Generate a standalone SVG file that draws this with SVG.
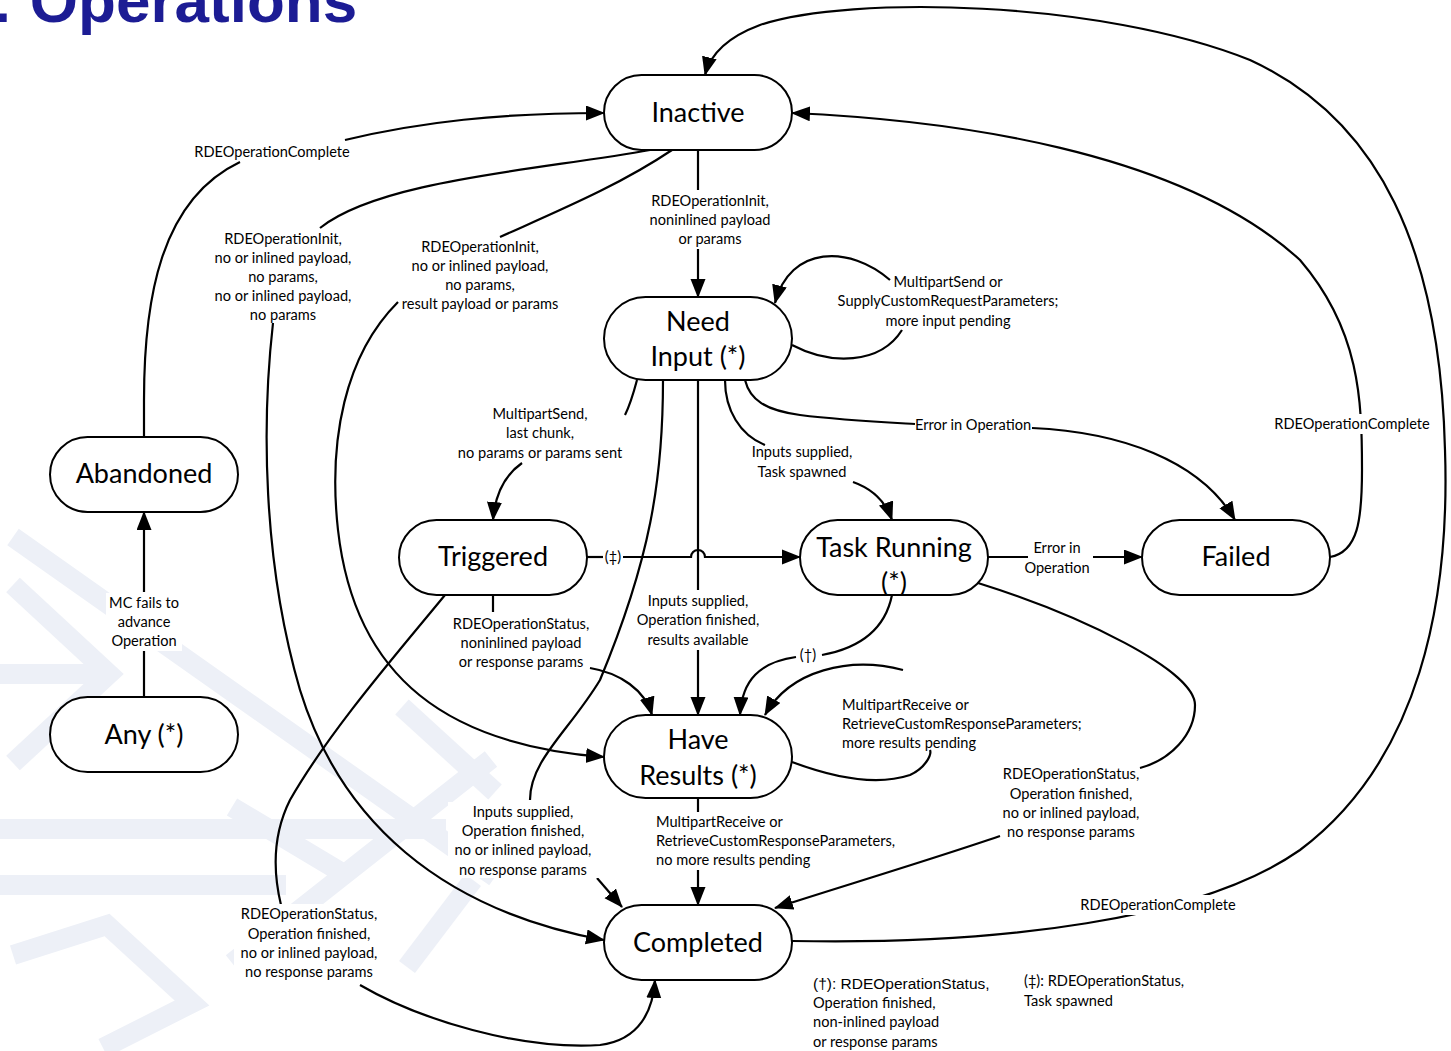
<svg xmlns="http://www.w3.org/2000/svg" width="1451" height="1051" viewBox="0 0 1451 1051">
<style>
.node rect{fill:#fff;stroke:#000;stroke-width:2}
.nt{font-family:Lato,"Liberation Sans",sans-serif;font-size:27px;fill:#000;text-anchor:middle}
.lb{font-family:Lato,"Liberation Sans",sans-serif;font-size:14.6px;fill:#000;text-anchor:middle}
.ll{font-family:Lato,"Liberation Sans",sans-serif;font-size:14.6px;fill:#000;text-anchor:start}
.fn{font-family:"Liberation Sans",Arial,sans-serif;font-size:15.5px;fill:#000}
.bg{fill:#fff}
#connectors path{fill:none;stroke:#000;stroke-width:2.2}
.arr{marker-end:url(#ah)}
.wm{fill:none;stroke:#edf0f7;stroke-width:20}
</style>
<defs>
<marker id="ah" markerUnits="userSpaceOnUse" markerWidth="20" markerHeight="16" refX="18" refY="7.5" orient="auto">
<path d="M0,0 L19,7.5 L0,15 z" fill="#000"/>
</marker>
</defs>
<rect width="1451" height="1051" fill="#fff"/>
<g id="watermark" class="wm">
<path d="M13,537 L495,877"/>
<path d="M13,585 L109,674 L13,763"/>
<path d="M0,674 L100,674"/>
<path d="M0,829 L446,829"/>
<path d="M0,885 L286,885"/>
<path d="M13,955 L107,925 L192,1003 L103,1048"/>
<path d="M232,963 L491,759"/>
<path d="M402,707 L495,792"/>
<path d="M407,967 L473,880"/>
<path d="M232,807 L344,874"/>
</g>
<text x="-8" y="22" font-family="'Liberation Sans',Arial,sans-serif" font-weight="bold" font-size="62" fill="#1c1c94">: Operations</text>
<g id="connectors">
<path class="arr" d="M792,941 C1000,945 1200,920 1300,850 C1420,760 1450,600 1445,450 C1440,250 1380,120 1250,60 C1100,0 850,-5 760,25 C725,38 710,55 705,75"/>
<path class="arr" d="M1330,557 C1358,552 1362,520 1362,470 C1362,400 1360,330 1300,260 C1180,150 950,120 792,113"/>
<path d="M144,437 L144,400 C144,300 160,200 240,162"/>
<path class="arr" d="M345,140 C420,122 500,113 604,113"/>
<path d="M698,150 L698,190"/>
<path class="arr" d="M698,249 L698,297"/>
<path d="M650,150 C540,170 380,180 320,228"/>
<path class="arr" d="M273,323 C262,420 262,560 300,690 C340,820 440,910 604,940"/>
<path d="M672,150 C620,185 560,210 500,237"/>
<path class="arr" d="M398,302 C345,355 328,440 338,530 C355,680 450,745 604,757"/>
<path d="M792,345 C830,365 880,365 902,330"/>
<path class="arr" d="M890,280 C850,245 790,245 775,303"/>
<path d="M637,380 C633,395 630,405 625,415"/>
<path class="arr" d="M522,463 C505,475 495,495 493,520"/>
<path d="M663,380 C663,480 650,560 600,680 C570,730 530,760 530,800"/>
<path class="arr" d="M597,878 L622,907"/>
<path d="M698,380 L698,590"/>
<path class="arr" d="M698,650 L698,715"/>
<path d="M725,380 C725,410 740,435 765,445"/>
<path class="arr" d="M853,482 C870,488 885,500 892,520"/>
<path d="M745,380 C750,400 765,410 800,415 C840,420 880,422 915,424"/>
<path class="arr" d="M1032,428 C1120,432 1200,460 1235,520"/>
<path d="M587,557 L603,557"/>
<path class="arr" d="M623,557 L691,557 A7,7 0 0 1 705,557 L800,557"/>
<path d="M493,595 L493,612"/>
<path class="arr" d="M590,668 C620,673 645,690 652,715"/>
<path d="M445,595 C400,650 330,730 290,800 C270,840 275,880 281,905"/>
<path class="arr" d="M360,985 C420,1020 520,1050 600,1045 C640,1040 653,1010 655,980"/>
<path d="M988,557 L1028,557"/>
<path class="arr" d="M1093,557 L1142,557"/>
<path d="M892,595 C885,630 860,648 822,655"/>
<path class="arr" d="M796,657 C760,662 742,680 740,715"/>
<path d="M978,583 C1080,615 1195,670 1195,705 C1195,735 1170,760 1140,768"/>
<path class="arr" d="M1000,836 C930,860 830,890 775,908"/>
<path d="M792,762 C840,780 880,785 910,775 C925,768 932,755 930,750"/>
<path class="arr" d="M903,670 C850,656 790,670 765,715"/>
<path d="M698,798 L698,812"/>
<path class="arr" d="M698,870 L698,905"/>
<path d="M144,697 L144,650"/>
<path class="arr" d="M144,592 L144,512"/>
</g>
<g id="node-inactive" class="node"><rect x="604" y="75" width="188" height="75" rx="37.5"/><text class="nt" x="698" y="122">Inactive</text></g>
<g id="node-needinput" class="node"><rect x="604" y="297" width="188" height="83" rx="41.5"/><text class="nt" x="698" y="331">Need</text><text class="nt" x="698" y="366">Input (*)</text></g>
<g id="node-triggered" class="node"><rect x="399" y="520" width="188" height="75" rx="37.5"/><text class="nt" x="493" y="566">Triggered</text></g>
<g id="node-taskrunning" class="node"><rect x="800" y="520" width="188" height="75" rx="37.5"/><text class="nt" x="894" y="557">Task Running</text><text class="nt" x="894" y="592">(*)</text></g>
<g id="node-failed" class="node"><rect x="1142" y="520" width="188" height="75" rx="37.5"/><text class="nt" x="1236" y="566">Failed</text></g>
<g id="node-abandoned" class="node"><rect x="50" y="437" width="188" height="75" rx="37.5"/><text class="nt" x="144" y="483">Abandoned</text></g>
<g id="node-any" class="node"><rect x="50" y="697" width="188" height="75" rx="37.5"/><text class="nt" x="144" y="744">Any (*)</text></g>
<g id="node-haveresults" class="node"><rect x="604" y="715" width="188" height="83" rx="41.5"/><text class="nt" x="698" y="749">Have</text><text class="nt" x="698" y="785">Results (*)</text></g>
<g id="node-completed" class="node"><rect x="604" y="905" width="188" height="75" rx="37.5"/><text class="nt" x="698" y="952">Completed</text></g>
<g id="labels">
<text class="lb" x="272" y="157">RDEOperationComplete</text>
<text class="lb" x="283" y="244">RDEOperationInit,</text>
<text class="lb" x="283" y="263">no or inlined payload,</text>
<text class="lb" x="283" y="282">no params,</text>
<text class="lb" x="283" y="301">no or inlined payload,</text>
<text class="lb" x="283" y="320">no params</text>
<text class="lb" x="480" y="252">RDEOperationInit,</text>
<text class="lb" x="480" y="271">no or inlined payload,</text>
<text class="lb" x="480" y="290">no params,</text>
<text class="lb" x="480" y="309">result payload or params</text>
<text class="lb" x="710" y="206">RDEOperationInit,</text>
<text class="lb" x="710" y="225">noninlined payload</text>
<text class="lb" x="710" y="244">or params</text>
<text class="lb" x="948" y="287">MultipartSend or</text>
<text class="lb" x="948" y="306">SupplyCustomRequestParameters;</text>
<text class="lb" x="948" y="326">more input pending</text>
<text class="lb" x="540" y="419">MultipartSend,</text>
<text class="lb" x="540" y="438">last chunk,</text>
<text class="lb" x="540" y="458">no params or params sent</text>
<text class="lb" x="802" y="457">Inputs supplied,</text>
<text class="lb" x="802" y="477">Task spawned</text>
<text class="lb" x="973" y="430">Error in Operation</text>
<rect class="bg" x="1274" y="414" width="156" height="20"/>
<text class="lb" x="1352" y="429">RDEOperationComplete</text>
<text class="lb" x="1057" y="553">Error in</text>
<text class="lb" x="1057" y="573">Operation</text>
<text class="lb" x="521" y="629">RDEOperationStatus,</text>
<text class="lb" x="521" y="648">noninlined payload</text>
<text class="lb" x="521" y="667">or response params</text>
<text class="lb" x="698" y="606">Inputs supplied,</text>
<text class="lb" x="698" y="625">Operation finished,</text>
<text class="lb" x="698" y="645">results available</text>
<text class="lb" x="808" y="660">(†)</text>
<text class="lb" x="613" y="562">(‡)</text>
<text class="ll" x="842" y="710">MultipartReceive or</text>
<text class="ll" x="842" y="729">RetrieveCustomResponseParameters;</text>
<text class="ll" x="842" y="748">more results pending</text>
<text class="ll" x="656" y="827">MultipartReceive or</text>
<text class="ll" x="656" y="846">RetrieveCustomResponseParameters,</text>
<text class="ll" x="656" y="865">no more results pending</text>
<rect class="bg" x="448" y="802" width="152" height="76"/>
<text class="lb" x="523" y="817">Inputs supplied,</text>
<text class="lb" x="523" y="836">Operation finished,</text>
<text class="lb" x="523" y="855">no or inlined payload,</text>
<text class="lb" x="523" y="875">no response params</text>
<text class="lb" x="1071" y="779">RDEOperationStatus,</text>
<text class="lb" x="1071" y="799">Operation finished,</text>
<text class="lb" x="1071" y="818">no or inlined payload,</text>
<text class="lb" x="1071" y="837">no response params</text>
<rect class="bg" x="1080" y="895" width="156" height="20"/>
<text class="lb" x="1158" y="910">RDEOperationComplete</text>
<rect class="bg" x="234" y="904" width="150" height="78"/>
<text class="lb" x="309" y="919">RDEOperationStatus,</text>
<text class="lb" x="309" y="939">Operation finished,</text>
<text class="lb" x="309" y="958">no or inlined payload,</text>
<text class="lb" x="309" y="977">no response params</text>
<rect class="bg" x="106" y="593" width="76" height="58"/>
<text class="lb" x="144" y="608">MC fails to</text>
<text class="lb" x="144" y="627">advance</text>
<text class="lb" x="144" y="646">Operation</text>
<text class="fn" x="813" y="989">(†): RDEOperationStatus,</text>
<text class="ll" x="813" y="1008">Operation finished,</text>
<text class="ll" x="813" y="1027">non-inlined payload</text>
<text class="ll" x="813" y="1047">or response params</text>
<text class="ll" x="1024" y="986">(‡): RDEOperationStatus,</text>
<text class="ll" x="1024" y="1006">Task spawned</text>
</g>
</svg>
